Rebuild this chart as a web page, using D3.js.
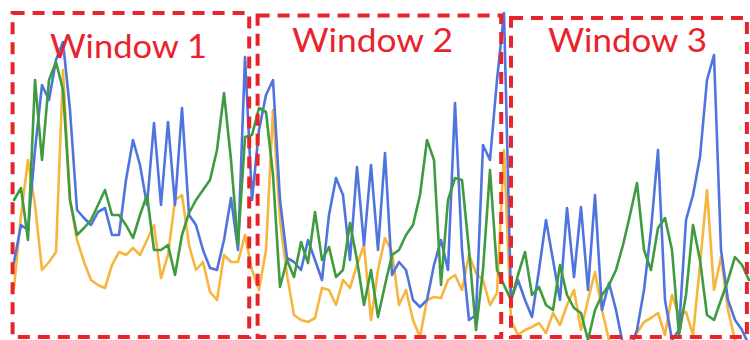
<!DOCTYPE html>
<html>
<head>
<meta charset="utf-8">
<script src="https://cdn.jsdelivr.net/npm/d3@7/dist/d3.min.js"></script>
<style>
  html, body { margin: 0; padding: 0; background: #fff; }
  svg { display: block; }
</style>
</head>
<body>
<svg id="chart" width="750" height="340"></svg>
<script>
// Sample index shared by the three series (one reading per step)
const steps = d3.range(106);

// Series readings (arbitrary units)
const blueSeries = [
  78, 115, 110, 190, 255, 240, 280, 298, 230, 130,
  122, 115, 128, 132, 105, 105, 160, 200, 175, 135,
  217, 135, 218, 135, 232, 125, 115, 90, 72, 70,
  100, 142, 90, 283, 140, 210, 245, 260, 140, 82,
  78, 70, 100, 80, 60, 125, 162, 145, 80, 173,
  95, 175, 90, 187, 65, 78, 70, 40, 33, 40,
  75, 100, 70, 237, 90, 20, 25, 195, 180, 260,
  327, 40, 60, 40, 23, 70, 120, 80, 40, 132,
  63, 133, 50, 145, 30, 57, 30, -5, -10, 10,
  50, 110, 190, 40, 0, 10, 120, 145, 183, 260,
  285, 90, 40, 20, 10, -5
];
const greenSeries = [
  140, 152, 100, 260, 180, 260, 278, 250, 140, 105,
  112, 120, 135, 150, 125, 125, 115, 102, 125, 145,
  90, 90, 95, 65, 105, 127, 140, 150, 160, 190,
  247, 180, 95, 203, 205, 232, 228, 165, 53, 80,
  63, 98, 77, 128, 80, 93, 63, 70, 117, 80,
  35, 70, 23, 55, 85, 90, 105, 115, 145, 200,
  180, 55, 140, 162, 160, 90, 10, 70, 170, 70,
  55, 40, 65, 88, 45, 53, 35, 30, 75, 45,
  32, 27, 0, 30, 45, 55, 70, 95, 125, 157,
  90, 70, 112, 122, 90, 5, 45, 115, 80, 25,
  20, 40, 60, 83, 75, 60
];
const orangeSeries = [
  52, 125, 180, 135, 70, 78, 88, 270, 140, 100,
  78, 60, 55, 52, 75, 88, 85, 92, 85, 100,
  115, 62, 85, 140, 145, 95, 70, 78, 48, 40,
  85, 78, 78, 105, 70, 50, 90, 230, 120, 65,
  25, 20, 18, 22, 52, 50, 35, 60, 52, 75,
  95, 20, 70, 102, 88, 35, 50, 20, 3, 40,
  43, 42, 60, 65, 50, 85, 67, 60, 35, 47,
  190, 20, 5, 10, 13, 17, 7, 27, 15, 35,
  50, 10, 40, 68, 30, 0, -5, -5, 0, 7,
  18, 22, 27, 5, 45, 25, 28, 5, 75, 150,
  50, 83, 30, 0, -5, -5
];

// Window annotations: [first step, last step] bounds and labels
const windowLabels = ["Window 1", "Window 2", "Window 3"];
const windowStart = [-0.2, 34.8, 71.0];
const windowEnd   = [33.6, 69.6, 104.7];

const svg = d3.select("#chart");
const W = 750, H = 340;

const x = d3.scaleLinear().domain([0, 105]).range([14, 749]);
const y = d3.scaleLinear().domain([0, 340]).range([H, 0]);

const line = d3.line()
  .x((d, i) => x(steps[i]))
  .y(d => y(d));

const series = [
  { values: orangeSeries, color: "#f6b63e" },
  { values: blueSeries,   color: "#4f74dd" },
  { values: greenSeries,  color: "#3e9b3f" }
];

svg.append("g")
  .selectAll("path")
  .data(series)
  .join("path")
  .attr("d", d => line(d.values))
  .attr("fill", "none")
  .attr("stroke", d => d.color)
  .attr("stroke-width", 2.6)
  .attr("stroke-linejoin", "round")
  .attr("stroke-linecap", "round");

// Dashed window frames
const frameTop = [13, 15.5, 18];
const frameBottom = 337;
const red = "#e8232b";

const frames = svg.append("g");
windowLabels.forEach((lab, k) => {
  const x0 = x(windowStart[k]), x1 = x(windowEnd[k]);
  frames.append("rect")
    .attr("x", x0)
    .attr("y", frameTop[k])
    .attr("width", x1 - x0)
    .attr("height", frameBottom - frameTop[k])
    .attr("fill", "none")
    .attr("stroke", red)
    .attr("stroke-width", 4)
    .attr("stroke-dasharray", "12,8");
});

// Window titles
const labelX = [50, 292, 548];
const labelBase = [58, 52, 52];
const labelLen = [157, 161, 159];
windowLabels.forEach((lab, k) => {
  svg.append("text")
    .attr("x", labelX[k])
    .attr("y", labelBase[k])
    .attr("textLength", labelLen[k])
    .attr("lengthAdjust", "spacingAndGlyphs")
    .attr("font-family", "Lato, 'Open Sans', sans-serif")
    .attr("font-size", 32)
    .attr("fill", red)
    .text(lab);
});
</script>
</body>
</html>
